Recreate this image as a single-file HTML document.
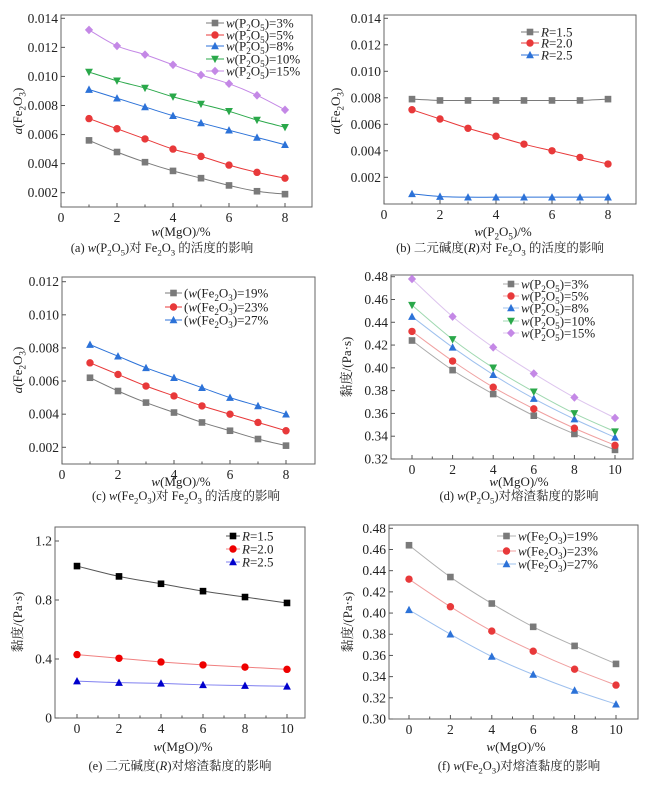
<!DOCTYPE html>
<html><head><meta charset="utf-8">
<style>
html,body{margin:0;padding:0;background:#fff;}
svg{display:block;}
text{font-family:"Liberation Serif","Noto Serif CJK SC","Noto Sans CJK SC",serif;fill:#222;}
</style></head>
<body>
<svg id="fig" width="652" height="787" viewBox="0 0 652 787" xmlns="http://www.w3.org/2000/svg"></svg>
<script>
// ---------- data ----------
const xA = [1,2,3,4,5,6,7,8];
const a_p3  = [0.0056,0.0048,0.0041,0.0035,0.0030,0.0025,0.0021,0.0019];
const a_p5  = [0.0071,0.0064,0.0057,0.0050,0.0045,0.0039,0.0034,0.0030];
const a_p8  = [0.0091,0.0085,0.0079,0.0073,0.0068,0.0063,0.0058,0.0053];
const a_p10 = [0.0103,0.0097,0.0092,0.0086,0.0081,0.0076,0.0070,0.0065];
const a_p15 = [0.0132,0.0121,0.0115,0.0108,0.0101,0.0095,0.0087,0.0077];
const b_r15 = [0.0079,0.0078,0.0078,0.0078,0.0078,0.0078,0.0078,0.0079];
const b_r20 = [0.0071,0.0064,0.0057,0.0051,0.0045,0.0040,0.0035,0.0030];
const b_r25 = [0.00075,0.00055,0.0005,0.0005,0.0005,0.0005,0.0005,0.0005];
const c_f19 = [0.0062,0.0054,0.0047,0.0041,0.0035,0.0030,0.0025,0.0021];
const c_f23 = [0.0071,0.0064,0.0057,0.0051,0.0045,0.0040,0.0035,0.0030];
const c_f27 = [0.0082,0.0075,0.0068,0.0062,0.0056,0.0050,0.0045,0.0040];
const xV = [0,2,4,6,8,10];
const d_p3  = [0.424,0.398,0.377,0.358,0.342,0.328];
const d_p5  = [0.432,0.406,0.383,0.364,0.347,0.332];
const d_p8  = [0.445,0.418,0.394,0.373,0.355,0.339];
const d_p10 = [0.455,0.425,0.400,0.379,0.360,0.344];
const d_p15 = [0.478,0.445,0.418,0.395,0.374,0.356];
const e_r15 = [1.03,0.96,0.91,0.86,0.82,0.78];
const e_r20 = [0.43,0.405,0.38,0.36,0.345,0.33];
const e_r25 = [0.25,0.24,0.235,0.225,0.22,0.215];
const f_f19 = [0.464,0.434,0.409,0.387,0.369,0.352];
const f_f23 = [0.432,0.406,0.383,0.364,0.347,0.332];
const f_f27 = [0.403,0.380,0.359,0.342,0.327,0.314];
const ticksA = ["0.002","0.004","0.006","0.008","0.010","0.012","0.014"];
const ticksC = ["0.002","0.004","0.006","0.008","0.010","0.012"];
const ticksV = ["0.32","0.34","0.36","0.38","0.40","0.42","0.44","0.46","0.48"];
const ticksE = ["0","0.4","0.8","1.2"];
const ticksF = ["0.30","0.32","0.34","0.36","0.38","0.40","0.42","0.44","0.46","0.48"];
const xTicks8 = [0,2,4,6,8];
const xTicks10 = [0,2,4,6,8,10];

// ---------- helpers ----------
const NS="http://www.w3.org/2000/svg";
const svg=document.getElementById('fig');
function mk(tag,attrs,parent){const e=document.createElementNS(NS,tag);for(const k in attrs)e.setAttribute(k,attrs[k]);(parent||svg).appendChild(e);return e;}
function rich(t,str,size){
  // '*' toggles italic, '_X' subscript
  let it=false,i=0,down=false;
  const sh=size*0.28;
  while(i<str.length){
    const ch=str[i];
    if(ch==='*'){it=!it;i++;continue;}
    if(ch==='_'){
      const a={'font-size':size*0.7};
      if(!down)a.dy=sh;
      if(it)a['font-style']='italic';
      const s=mk('tspan',a,t);s.textContent=str[i+1];down=true;i+=2;continue;}
    let j=i;while(j<str.length&&str[j]!=='*'&&str[j]!=='_')j++;
    const a=it?{'font-style':'italic'}:{};
    if(down){a.dy=-sh;down=false;}
    const s=mk('tspan',a,t);s.textContent=str.slice(i,j);i=j;
  }
}
function marker(g,shape,x,y,color,s){
  s=s||3.3;
  let m;
  if(shape==='sq')m=mk('rect',{x:x-s,y:y-s,width:2*s,height:2*s,fill:color},g);
  else if(shape==='ci')m=mk('circle',{cx:x,cy:y,r:s+0.4,fill:color},g);
  else if(shape==='tu')m=mk('polygon',{points:`${x},${y-s-0.8} ${x-s-0.6},${y+s} ${x+s+0.6},${y+s}`,fill:color},g);
  else if(shape==='td')m=mk('polygon',{points:`${x},${y+s+0.8} ${x-s-0.6},${y-s} ${x+s+0.6},${y-s}`,fill:color},g);
  else m=mk('polygon',{points:`${x},${y-s-1} ${x+s+0.8},${y} ${x},${y+s+1} ${x-s-0.8},${y}`,fill:color},g);
  return m;
}
function smooth(pts){
  let d=`M${pts[0][0]},${pts[0][1]}`;
  for(let i=0;i<pts.length-1;i++){
    const p0=pts[i-1]||pts[i],p1=pts[i],p2=pts[i+1],p3=pts[i+2]||p2;
    const c1=[p1[0]+(p2[0]-p0[0])/6,p1[1]+(p2[1]-p0[1])/6];
    const c2=[p2[0]-(p3[0]-p1[0])/6,p2[1]-(p3[1]-p1[1])/6];
    d+=` C${c1[0]},${c1[1]} ${c2[0]},${c2[1]} ${p2[0]},${p2[1]}`;
  }
  return d;
}
function panel(P){
  const g=mk('g',{});
  
  
  const X=v=>P.xm[1]+(v-P.xm[0])*(P.xm[3]-P.xm[1])/(P.xm[2]-P.xm[0]);
  const Y=v=>P.ym[1]+(v-P.ym[0])*(P.ym[3]-P.ym[1])/(P.ym[2]-P.ym[0]);
  const f=P.frame;
  const fr=mk('rect',{x:f[0],y:f[1],width:f[2]-f[0],height:f[3]-f[1],fill:'none',stroke:'#666','stroke-width':1},g);
  
  
  P.yticks.forEach(lbl=>{
    const v=parseFloat(lbl),y=Y(v);
    mk('line',{x1:f[0],x2:f[0]+4,y1:y,y2:y,stroke:'#555'},g);
    const t=mk('text',{x:f[0]-3,y:y+4.5,'text-anchor':'end','font-size':13.5},g);
    
    
    t.textContent=lbl;
  });
  P.xticks.forEach((v,i)=>{
    const x=X(v);
    mk('line',{x1:x,x2:x,y1:f[3],y2:f[3]-4,stroke:'#555'},g);
    if(i<P.xticks.length-1){const xm=X(v+(P.xticks[1]-P.xticks[0])/2);mk('line',{x1:xm,x2:xm,y1:f[3],y2:f[3]-2.5,stroke:'#555'},g);}
    const t=mk('text',{x:x,y:f[3]+15,'text-anchor':'middle','font-size':13.5},g);
    
    
    t.textContent=String(v);
  });
  P.series.forEach(s=>{
    const pts=P.xs.map((xv,i)=>[X(xv),Y(s.vals[i])]);
    const ln=mk('path',{d:smooth(pts),fill:'none',stroke:s.line||s.color,'stroke-width':1},g);
    
    
    pts.forEach(p=>{
      const m=marker(g,s.shape,p[0],p[1],s.color);
      
      
    });
  });
  P.series.forEach((s,i)=>{
    const y=P.leg.ys[i];
    const lg=mk('g',{},g);
    
    
    mk('line',{x1:P.leg.x0,x2:P.leg.x1,y1:y,y2:y,stroke:s.line||s.color,'stroke-width':1},lg);
    marker(lg,s.shape,(P.leg.x0+P.leg.x1)/2,y,s.color);
    const t=mk('text',{x:P.leg.x1+2,y:y+4.5,'font-size':P.leg.fs||13},lg);
    rich(t,s.label,P.leg.fs||13);
  });
  const yt=mk('text',{transform:`translate(${P.ylab[0]},${P.ylab[1]}) rotate(-90)`,'text-anchor':'middle','font-size':13},g);
  
  
  rich(yt,P.ylabel,13);
  const xt=mk('text',{x:P.xlab[0],y:P.xlab[1],'text-anchor':'middle','font-size':13},g);
  
  
  rich(xt,P.xlabel,13);
  const cp=mk('text',{x:P.cap[0],y:P.cap[1],'text-anchor':'middle','font-size':12.5},g);
  
  
  rich(cp,P.caption,12.5);
}
const GR='#7a7a7a',RD='#e8393a',BL='#2c72d8',GN='#2aa84a',PU='#c488e6';
const aLab='*a*(Fe_2O_3)', vLab='黏度/(Pa·s)';
panel({name:'panel-a',frame:[61,15,312,207],xm:[0,61,8,285],ym:[0.002,192.7,0.014,18.3],
  yticks:ticksA,xticks:xTicks8,xs:xA,
  series:[{vals:a_p3,color:GR,shape:'sq',label:'*w*(P_2O_5)=3%'},{vals:a_p5,color:RD,shape:'ci',label:'*w*(P_2O_5)=5%'},
   {vals:a_p8,color:BL,shape:'tu',label:'*w*(P_2O_5)=8%'},{vals:a_p10,color:GN,shape:'td',label:'*w*(P_2O_5)=10%'},
   {vals:a_p15,color:PU,shape:'di',label:'*w*(P_2O_5)=15%'}],
  leg:{x0:206,x1:224,ys:[23,35,46,59,71]},ylabel:aLab,ylab:[22,111],xlabel:'*w*(MgO)/%',xlab:[181,236],
  caption:'(a) *w*(P_2O_5)对 Fe_2O_3 的活度的影响',cap:[162,252]});
panel({name:'panel-b',frame:[384,15,636,204],xm:[0,384,8,608],ym:[0.002,177.3,0.014,18.3],
  yticks:ticksA,xticks:xTicks8,xs:xA,
  series:[{vals:b_r15,color:GR,shape:'sq',label:'*R*=1.5'},{vals:b_r20,color:RD,shape:'ci',label:'*R*=2.0'},{vals:b_r25,color:BL,shape:'tu',label:'*R*=2.5'}],
  leg:{x0:521,x1:539,ys:[32,43,55]},ylabel:aLab,ylab:[340,111],xlabel:'*w*(P_2O_5)/%',xlab:[503,236],
  caption:'(b) 二元碱度(*R*)对 Fe_2O_3 的活度的影响',cap:[500,252]});
panel({name:'panel-c',frame:[62,277,315,464],xm:[0,62,8,286],ym:[0.002,447.3,0.012,281.7],
  yticks:ticksC,xticks:xTicks8,xs:xA,
  series:[{vals:c_f19,color:GR,shape:'sq',label:'(*w*(Fe_2O_3)=19%'},{vals:c_f23,color:RD,shape:'ci',label:'(*w*(Fe_2O_3)=23%'},{vals:c_f27,color:BL,shape:'tu',label:'(*w*(Fe_2O_3)=27%'}],
  leg:{x0:165,x1:182,ys:[293,307,320]},ylabel:aLab,ylab:[22,370],xlabel:'*w*(MgO)/%',xlab:[181,486],
  caption:'(c) *w*(Fe_2O_3)对 Fe_2O_3 的活度的影响',cap:[186,500]});
panel({name:'panel-d',frame:[391,275,633,459],xm:[0,412,10,615],ym:[0.32,459,0.48,276.7],
  yticks:ticksV,xticks:xTicks10,xs:xV,
  series:[{vals:d_p3,color:GR,line:'#aaa',shape:'sq',label:'*w*(P_2O_5)=3%'},{vals:d_p5,color:RD,line:'#f0a0a0',shape:'ci',label:'*w*(P_2O_5)=5%'},
   {vals:d_p8,color:BL,line:'#9ec0ee',shape:'tu',label:'*w*(P_2O_5)=8%'},{vals:d_p10,color:GN,line:'#9fd8b0',shape:'td',label:'*w*(P_2O_5)=10%'},
   {vals:d_p15,color:PU,line:'#ddc4ee',shape:'di',label:'*w*(P_2O_5)=15%'}],
  leg:{x0:503,x1:519,ys:[284,296,308,321,333]},ylabel:vLab,ylab:[351,367],xlabel:'*w*(MgO)/%',xlab:[519,486],
  caption:'(d) *w*(P_2O_5)对熔渣黏度的影响',cap:[519,500]});
panel({name:'panel-e',frame:[55,527,305,718],xm:[0,77,10,287],ym:[0,718,1.2,541],
  yticks:ticksE,xticks:xTicks10,xs:xV,
  series:[{vals:e_r15,color:'#000',line:'#555',shape:'sq',label:'*R*=1.5'},{vals:e_r20,color:'#e00',line:'#f08080',shape:'ci',label:'*R*=2.0'},{vals:e_r25,color:'#00c',line:'#8080f0',shape:'tu',label:'*R*=2.5'}],
  leg:{x0:226,x1:240,ys:[536,549,562]},ylabel:vLab,ylab:[22,622],xlabel:'*w*(MgO)/%',xlab:[183,751],
  caption:'(e) 二元碱度(*R*)对熔渣黏度的影响',cap:[180,770]});
panel({name:'panel-f',frame:[389,525,638,719],xm:[0,409,10,616],ym:[0.30,719,0.48,528.3],
  yticks:ticksF,xticks:xTicks10,xs:xV,
  series:[{vals:f_f19,color:GR,line:'#b0b0b0',shape:'sq',label:'*w*(Fe_2O_3)=19%'},{vals:f_f23,color:RD,line:'#f0a0a0',shape:'ci',label:'*w*(Fe_2O_3)=23%'},{vals:f_f27,color:BL,line:'#9ec0ee',shape:'tu',label:'*w*(Fe_2O_3)=27%'}],
  leg:{x0:497,x1:516,ys:[536,551,564]},ylabel:vLab,ylab:[352,622],xlabel:'*w*(MgO)/%',xlab:[516,751],
  caption:'(f) *w*(Fe_2O_3)对熔渣黏度的影响',cap:[519,770]});
</script>
</body></html>
